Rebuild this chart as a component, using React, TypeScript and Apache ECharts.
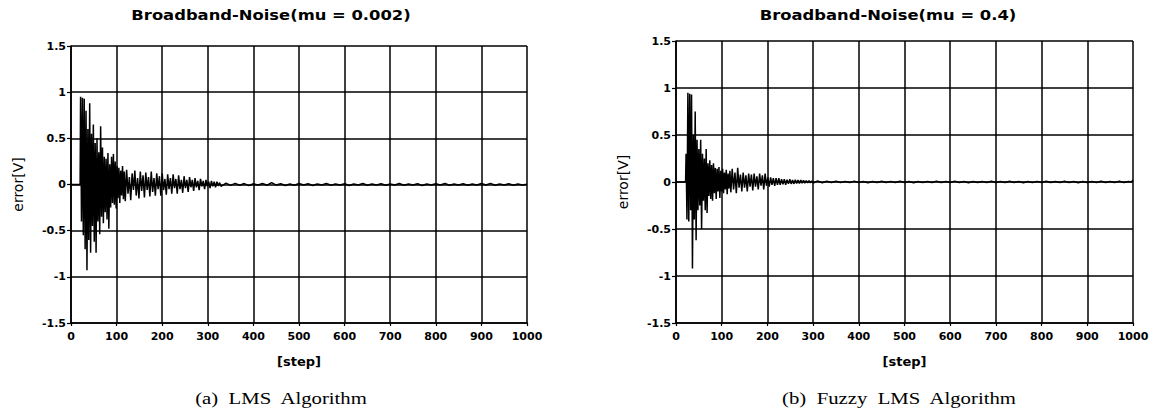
import React, { useEffect, useRef } from "react";
import * as echarts from "echarts";

// ---------- data (step, error[V]) ----------
const lmsLead: [number, number][] = [[0, 0], [20, 0]];
const lmsBurst: [number, number][] = [
  [21, 0.95], [23, -0.4], [25, 0.94], [27, -0.55], [29, 0.93], [31, -0.7], [33, 0.8], [35, -0.93],
  [37, 0.6], [39, -0.6], [41, 0.88], [43, -0.74], [45, 0.55], [47, -0.45], [49, 0.65], [51, -0.62],
  [53, 0.45], [55, -0.74], [57, 0.5], [59, -0.4], [61, 0.35], [63, -0.54], [65, 0.63], [67, -0.35],
  [69, 0.4], [71, -0.42], [73, 0.3], [75, -0.3], [77, 0.28], [79, -0.38], [81, 0.34], [83, -0.48],
  [85, 0.22], [87, -0.25], [89, 0.3], [91, -0.2], [93, 0.33], [95, -0.22], [97, 0.25], [99, -0.26],
  [101, 0.2], [103, -0.15], [105, 0.18], [107, -0.2], [109, 0.15], [111, -0.12], [113, 0.2], [115, -0.16],
  [117, 0.14], [119, -0.18],
];
const lmsDecay: [number, number][] = [
  [122, 0.16], [125, -0.1], [128, 0.08], [131, -0.17], [134, 0.12], [137, -0.06], [140, 0.15], [143, -0.12],
  [146, 0.07], [149, -0.15], [152, 0.14], [155, -0.07], [158, 0.1], [161, -0.14], [164, 0.13], [167, -0.06],
  [170, 0.08], [173, -0.13], [176, 0.14], [179, -0.08], [182, 0.07], [185, -0.12], [188, 0.12], [191, -0.05],
  [194, 0.09], [197, -0.12], [200, 0.12], [203, -0.06], [206, 0.06], [209, -0.11], [212, 0.11], [215, -0.05],
  [218, 0.07], [221, -0.1], [224, 0.11], [227, -0.04], [230, 0.06], [233, -0.1], [236, 0.1], [239, -0.05],
  [242, 0.05], [245, -0.09], [248, 0.09], [251, -0.04], [254, 0.05], [257, -0.08], [260, 0.08], [263, -0.03],
  [266, 0.05], [269, -0.07], [272, 0.07], [275, -0.03], [278, 0.04], [281, -0.06], [284, 0.06], [287, -0.02],
  [290, 0.04], [293, -0.05], [296, 0.05], [299, -0.02], [302, 0.03], [305, -0.04], [308, 0.04], [311, -0.02],
  [314, 0.03], [317, -0.03], [320, 0.03], [323, -0.015], [326, 0.02], [329, -0.02],
];
const lmsTail: [number, number][] = [
  [340, 0.015], [350, -0.01], [360, 0.012], [370, -0.008], [380, 0.01], [390, -0.012], [400, 0.008], [410, -0.006],
  [420, 0.01], [430, -0.008], [440, 0.02], [450, -0.006], [460, 0.008], [470, -0.01], [480, 0.006], [490, -0.008],
  [500, 0.01], [510, -0.006], [520, 0.008], [530, -0.01], [540, 0.006], [550, -0.006], [560, 0.01], [570, -0.008],
  [580, 0.006], [590, -0.006], [600, 0.008], [610, -0.01], [620, 0.006], [630, -0.006], [640, 0.01], [650, -0.008],
  [660, 0.006], [670, -0.006], [680, 0.008], [690, -0.008], [700, 0.006], [710, -0.006], [720, 0.01], [730, -0.008],
  [740, 0.006], [750, -0.006], [760, 0.008], [770, -0.01], [780, 0.006], [790, -0.006], [800, 0.008], [810, -0.006],
  [820, 0.01], [830, -0.008], [840, 0.006], [850, -0.006], [860, 0.008], [870, -0.008], [880, 0.006], [890, -0.006],
  [900, 0.01], [910, -0.006], [920, 0.012], [930, -0.008], [940, 0.006], [950, -0.006], [960, 0.008], [970, -0.008],
  [980, 0.006], [990, -0.006], [1000, 0.004],
];

const fuzzyLead: [number, number][] = [[0, 0], [21, 0]];
const fuzzyBurst: [number, number][] = [
  [22, 0.3], [24, -0.4], [26, 0.95], [28, -0.42], [30, 0.94], [32, -0.3], [34, 0.93], [36, -0.92],
  [38, 0.5], [40, -0.4], [42, 0.75], [44, -0.62], [46, 0.45], [48, -0.3], [50, 0.35], [52, -0.25],
  [54, 0.45], [56, -0.5], [58, 0.3], [60, -0.2], [62, 0.25], [64, -0.3], [66, 0.35], [68, -0.33],
  [70, 0.2], [72, -0.15], [74, 0.23], [76, -0.18], [78, 0.18], [80, -0.2], [82, 0.2], [84, -0.12],
  [86, 0.15], [88, -0.18], [90, 0.14], [92, -0.1], [94, 0.16], [96, -0.17], [98, 0.12], [100, -0.1],
  [102, 0.14], [104, -0.12], [106, 0.1], [108, -0.08], [110, 0.13], [112, -0.13], [114, 0.09], [116, -0.07],
  [118, 0.12], [120, -0.11],
];
const fuzzyDecay: [number, number][] = [
  [123, 0.14], [126, -0.08], [129, 0.1], [132, -0.12], [135, 0.15], [138, -0.06], [141, 0.08], [144, -0.1],
  [147, 0.1], [150, -0.06], [153, 0.07], [156, -0.1], [159, 0.09], [162, -0.05], [165, 0.08], [168, -0.09],
  [171, 0.09], [174, -0.05], [177, 0.06], [180, -0.08], [183, 0.09], [186, -0.04], [189, 0.07], [192, -0.08],
  [195, 0.09], [198, -0.04], [201, 0.05], [204, -0.05], [207, 0.05], [210, -0.03], [213, 0.04], [216, -0.04],
  [219, 0.04], [222, -0.03], [225, 0.04], [228, -0.03], [231, 0.03], [234, -0.025], [237, 0.03], [240, -0.03],
  [243, 0.025], [246, -0.02], [249, 0.03], [252, -0.02], [255, 0.02], [258, -0.02], [261, 0.025], [264, -0.015],
  [267, 0.02], [270, -0.015], [273, 0.02], [276, -0.012], [279, 0.018], [282, -0.012], [285, 0.015], [288, -0.01],
  [291, 0.015], [294, -0.01], [297, 0.012], [300, -0.01],
];
const fuzzyTail: [number, number][] = [
  [310, 0.01], [320, -0.008], [330, 0.008], [340, -0.006], [350, 0.008], [360, -0.006], [370, 0.006], [380, -0.006],
  [390, 0.008], [400, -0.006], [410, 0.006], [420, -0.008], [430, 0.006], [440, -0.006], [450, 0.008], [460, -0.006],
  [470, 0.006], [480, -0.006], [490, 0.008], [500, -0.006], [510, 0.006], [520, -0.008], [530, 0.006], [540, -0.006],
  [550, 0.006], [560, -0.006], [570, 0.008], [580, -0.006], [590, 0.006], [600, -0.006], [610, 0.008], [620, -0.006],
  [630, 0.006], [640, -0.008], [650, 0.006], [660, -0.006], [670, 0.006], [680, -0.006], [690, 0.008], [700, -0.006],
  [710, 0.006], [720, -0.006], [730, 0.008], [740, -0.006], [750, 0.006], [760, -0.008], [770, 0.006], [780, -0.006],
  [790, 0.006], [800, -0.006], [810, 0.008], [820, -0.006], [830, 0.006], [840, -0.006], [850, 0.008], [860, -0.006],
  [870, 0.006], [880, -0.008], [890, 0.006], [900, -0.006], [910, 0.006], [920, -0.006], [930, 0.008], [940, -0.006],
  [950, 0.006], [960, -0.006], [970, 0.008], [980, -0.006], [990, 0.006], [996, 0.0], [1000, 0.02],
];

const titles = ["Broadband-Noise(mu = 0.002)", "Broadband-Noise(mu = 0.4)"];
const captions = ["(a)  LMS  Algorithm", "(b)  Fuzzy  LMS  Algorithm"];
const xName = "[step]";
const yName = "error[V]";

const SANS = '"DejaVu Sans", sans-serif';

function makeX(gridIndex: number) {
  return {
    type: "value" as const,
    gridIndex,
    min: 0,
    max: 1000,
    interval: 100,
    name: xName,
    nameLocation: "middle" as const,
    nameGap: 32,
    nameTextStyle: { color: "#000", fontFamily: SANS, fontWeight: "bold" as const, fontSize: 13 },
    axisLine: { show: true, onZero: false, lineStyle: { color: "#000", width: 1.6 } },
    axisTick: { show: true, inside: false, length: 3, lineStyle: { color: "#000", width: 1.2 } },
    axisLabel: {
      color: "#000", fontFamily: SANS, fontWeight: "bold" as const, fontSize: 11, margin: 8,
      formatter: (v: number) => String(v),
    },
    splitLine: { show: true, lineStyle: { color: "#000", width: 1.5 } },
  };
}

function makeY(gridIndex: number) {
  return {
    type: "value" as const,
    gridIndex,
    min: -1.5,
    max: 1.5,
    interval: 0.5,
    name: yName,
    nameLocation: "middle" as const,
    nameRotate: 90,
    nameGap: 46,
    nameTextStyle: { color: "#000", fontFamily: SANS, fontSize: 14 },
    axisLine: { show: true, onZero: false, lineStyle: { color: "#000", width: 1.6 } },
    axisTick: { show: true, inside: false, length: 4, lineStyle: { color: "#000", width: 1.2 } },
    axisLabel: { color: "#000", fontFamily: SANS, fontWeight: "bold" as const, fontSize: 11, margin: 5 },
    splitLine: { show: true, lineStyle: { color: "#000", width: 1.5 } },
  };
}

export default function App() {
  const ref = useRef<HTMLDivElement>(null);
  useEffect(() => {
    if (!ref.current) return;
    const chart = echarts.init(ref.current, undefined, { renderer: "svg" });
    const lms = [...lmsLead, ...lmsBurst, ...lmsDecay, ...lmsTail];
    const fuzzy = [...fuzzyLead, ...fuzzyBurst, ...fuzzyDecay, ...fuzzyTail];
    const titleFont = 'bold 14px "DejaVu Sans"';
    const capFont = '17px "Liberation Serif"';
    chart.setOption({
      animation: false,
      backgroundColor: "#fff",
      grid: [
        { left: 71, top: 46, width: 456, height: 277 },
        { left: 676, top: 41, width: 457, height: 282 },
      ],
      xAxis: [makeX(0), makeX(1)],
      yAxis: [makeY(0), makeY(1)],
      series: [
        {
          type: "line", xAxisIndex: 0, yAxisIndex: 0, data: lms, showSymbol: false,
          lineStyle: { color: "#000", width: 1.5 }, z: 5,
        },
        {
          type: "line", xAxisIndex: 1, yAxisIndex: 1, data: fuzzy, showSymbol: false,
          lineStyle: { color: "#000", width: 1.5 }, z: 5,
        },
      ],
      graphic: [
        { type: "text", x: 271, y: 15, scaleX: 1.17, style: { text: titles[0], fill: "#000", font: titleFont, align: "center", verticalAlign: "middle" } },
        { type: "text", x: 888, y: 15, scaleX: 1.17, style: { text: titles[1], fill: "#000", font: titleFont, align: "center", verticalAlign: "middle" } },
        { type: "text", x: 281, y: 398, scaleX: 1.22, style: { text: captions[0], fill: "#000", font: capFont, align: "center", verticalAlign: "middle" } },
        { type: "text", x: 899, y: 398, scaleX: 1.22, style: { text: captions[1], fill: "#000", font: capFont, align: "center", verticalAlign: "middle" } },
      ],
    });
    return () => chart.dispose();
  }, []);
  return <div ref={ref} style={{ position: "fixed", left: 0, top: 0, width: 1155, height: 412 }} />;
}
